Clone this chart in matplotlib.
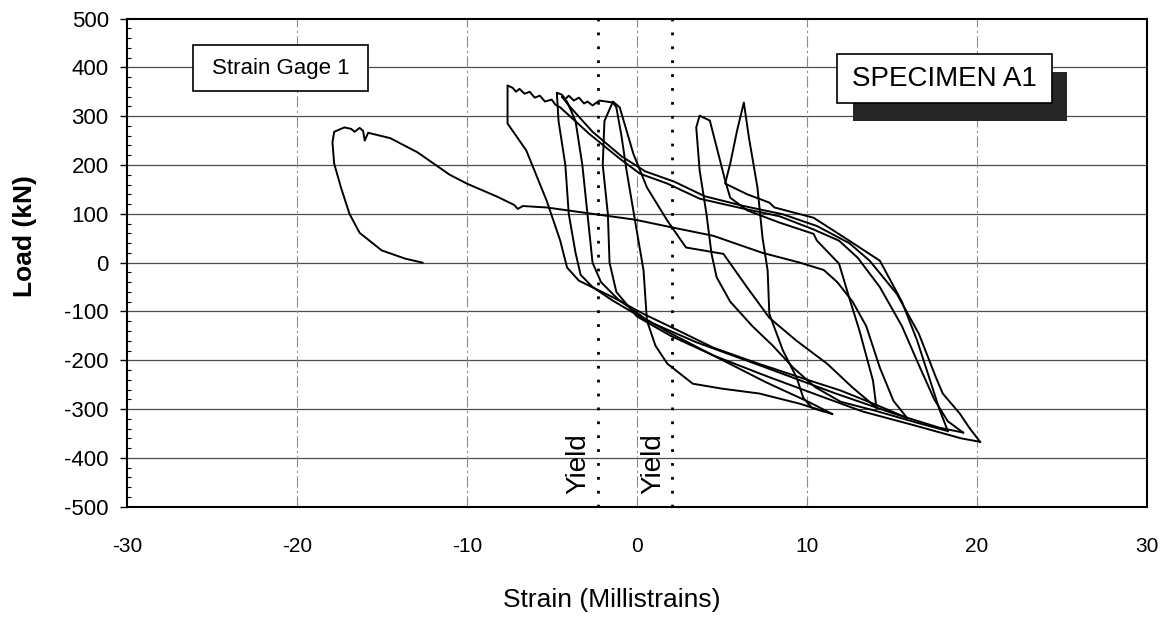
import matplotlib
matplotlib.use("Agg")
import matplotlib.pyplot as plt
from matplotlib.patches import Rectangle
from matplotlib.ticker import MultipleLocator

plt.rcParams["font.family"] = ["Liberation Sans", "DejaVu Sans"]
plt.rcParams["axes.unicode_minus"] = False

strain_1 = [-12.6, -13.6, -15.0, -16.3, -16.9, -17.4, -17.8, -17.9, -17.8, -17.2, -16.8, -16.6, -16.3,
            -16.1, -16.0, -15.8, -14.5, -12.9, -11.0, -10.0, -8.2, -7.2, -7.0, -6.7, -5.3, -2.6, -0.1,
            2.1, 4.5, 7.4, 9.6, 11.0, 11.8, 12.7, 13.5, 14.3, 15.1, 15.9]
load_1 = [0, 8, 25, 61, 100, 154, 203, 246, 268, 277, 274, 268, 276,
          270, 250, 266, 255, 226, 180, 162, 135, 118, 110, 116, 113, 100, 88,
          72, 55, 20, 0, -15, -40, -80, -130, -215, -283, -318]

strain_2 = [15.9, 14.0, 12.0, 9.6, 7.0, 4.5, 2.5, 0.4, -1.4, -3.4, -4.1, -4.5, -5.3, -6.5, -7.6,
            -7.6, -7.3, -7.1, -6.9, -6.6, -6.3, -6.0, -5.7, -5.4, -5.0, -4.8, -4.5, -2.8, -1.0,
            0.2, 1.8, 3.7, 6.1, 8.4, 10.4, 11.9, 13.0, 14.3, 15.6, 16.6, 17.5, 18.3, 19.2]
load_2 = [-318, -290, -262, -235, -205, -174, -140, -105, -71, -37, -10, 45, 127, 230, 285,
          363, 358, 350, 356, 346, 350, 338, 342, 330, 334, 324, 318, 264, 213,
          182, 162, 131, 112, 95, 68, 45, 10, -50, -130, -210, -280, -325, -348]

strain_3 = [19.2, 17.8, 15.2, 11.7, 7.6, 3.5, 0.6, -1.4, -2.6, -3.3, -3.6, -4.0, -4.2, -4.6,
            -4.7, -4.4, -4.2, -4.0, -3.7, -3.4, -3.1, -2.9, -2.6, -2.2, -1.8, -1.4, -1.2, -0.9,
            -0.6, -0.1, 0.4, 0.6, 1.1, 1.8, 3.3, 5.0, 7.2, 9.6, 11.5]
load_3 = [-348, -338, -310, -268, -215, -163, -119, -78, -50, -25, 20, 100, 200, 290,
          348, 344, 335, 342, 332, 338, 326, 330, 322, 332, 330, 328, 318, 260,
          189, 86, -16, -119, -170, -207, -248, -258, -268, -289, -310]

strain_4 = [11.5, 10.1, 7.6, 4.5, 2.0, 0.5, -1.1, -2.1, -2.6, -2.9, -3.2, -3.6, -4.1, -4.4,
            -4.0, -2.6, -0.9, 0.5, 2.2, 4.0, 6.3, 8.6, 10.6, 12.5, 13.7, 15.3, 16.6, 17.6,
            18.0, 19.0, 19.6, 20.2]
load_4 = [-310, -285, -245, -190, -145, -115, -75, -40, 0, 100, 200, 290, 330, 340,
          322, 268, 218, 187, 166, 136, 116, 99, 75, 40, 4, -64, -146, -235,
          -268, -309, -340, -367]

strain_5 = [20.2, 19.1, 16.3, 13.3, 10.7, 7.6, 4.5, 2.0, 0.0, -1.2, -1.6, -1.7, -2.0, -1.9,
            -1.4, -1.0, -0.2, 0.6, 1.8, 2.9, 5.1, 6.5, 7.8, 9.4, 11.2, 12.7, 14.1]
load_5 = [-367, -360, -333, -305, -272, -232, -190, -150, -110, -60, 0, 100, 200, 290,
          330, 318, 223, 154, 86, 31, 18, -51, -113, -160, -207, -256, -297]

strain_6 = [14.1, 13.9, 13.1, 12.5, 11.9, 10.6, 10.4, 8.4, 6.5, 5.5, 5.2, 4.8, 4.3, 3.7,
            3.5, 3.7, 4.1, 4.4, 4.7, 5.5, 6.8, 8.0, 9.2, 10.5, 12.0, 14.0, 16.5, 18.3]
load_6 = [-297, -242, -139, -72, -2, 45, 59, 82, 107, 133, 168, 223, 291, 301,
          277, 189, 100, 18, -30, -80, -130, -170, -215, -255, -285, -303, -328, -345]

strain_7 = [18.3, 17.8, 17.2, 16.5, 15.6, 14.3, 12.5, 10.4, 8.1, 7.8, 6.5, 5.2, 5.5,
            5.9, 6.3, 6.6, 7.1, 7.4, 7.7, 7.8, 8.6, 9.4, 9.8, 10.3, 11.0]
load_7 = [-345, -300, -235, -160, -80, 4, 45, 92, 113, 123, 140, 162, 203,
          270, 328, 256, 154, 51, -16, -105, -180, -235, -277, -297, -305]

cycles = [(strain_1, load_1), (strain_2, load_2), (strain_3, load_3), (strain_4, load_4),
          (strain_5, load_5), (strain_6, load_6), (strain_7, load_7)]

yield_strain = [-2.3, 2.1]
x_ticks = [-30, -20, -10, 0, 10, 20, 30]
y_ticks = [-500, -400, -300, -200, -100, 0, 100, 200, 300, 400, 500]

fig = plt.figure(figsize=(11.63, 6.18), dpi=100)
ax = fig.add_axes([0.109, 0.180, 0.877, 0.790])
ax.set_xlim(-30, 30)
ax.set_ylim(-500, 500)

# grid: solid horizontals, faint dash-dot verticals
for y in y_ticks[1:-1]:
    ax.axhline(y, color="0.3", lw=0.9, zorder=1)
for x in x_ticks[1:-1]:
    ax.axvline(x, color="0.55", lw=0.8, ls=(0, (10, 3, 2, 3)), zorder=1)

for x in yield_strain:
    ax.axvline(x, color="k", lw=2, ls=(0, (1, 4)), zorder=2)
    ax.text(x - 1.15, -412, "Yield", rotation=90, fontsize=20, ha="center", va="center", zorder=2)

for s, l in cycles:
    ax.plot(s, l, color="k", lw=1.4, zorder=3, solid_joinstyle="round")

# label boxes
ax.add_patch(Rectangle((-26.1, 352), 10.3, 93, facecolor="white", edgecolor="k", lw=1.2, zorder=4))
ax.text(-20.95, 397, "Strain Gage 1", fontsize=16, ha="center", va="center", zorder=5)

ax.add_patch(Rectangle((12.7, 291), 12.6, 100, facecolor="#262626", edgecolor="none", zorder=4))
ax.add_patch(Rectangle((11.8, 328), 12.6, 100, facecolor="white", edgecolor="k", lw=1.2, zorder=5))
ax.text(18.1, 376, "SPECIMEN A1", fontsize=20, ha="center", va="center", zorder=6)

ax.set_xticks(x_ticks)
ax.set_yticks(y_ticks)
ax.yaxis.set_minor_locator(MultipleLocator(20))
ax.tick_params(axis="x", length=0, pad=22, labelsize=15)
ax.tick_params(axis="y", which="major", length=5, width=1, direction="out", pad=8, labelsize=16)
ax.tick_params(axis="y", which="minor", length=3, width=0.8, direction="in")
for sp in ax.spines.values():
    sp.set_linewidth(1.5)
    sp.set_color("k")

fig.text(25 / 1163, 1 - 236 / 618, "Load (kN)", rotation=90, fontsize=19, fontweight="bold",
         ha="center", va="center")
fig.text(612 / 1163, 1 - 600 / 618, "Strain (Millistrains)", fontsize=19, ha="center", va="center")

fig.savefig("out.png", dpi=100)
